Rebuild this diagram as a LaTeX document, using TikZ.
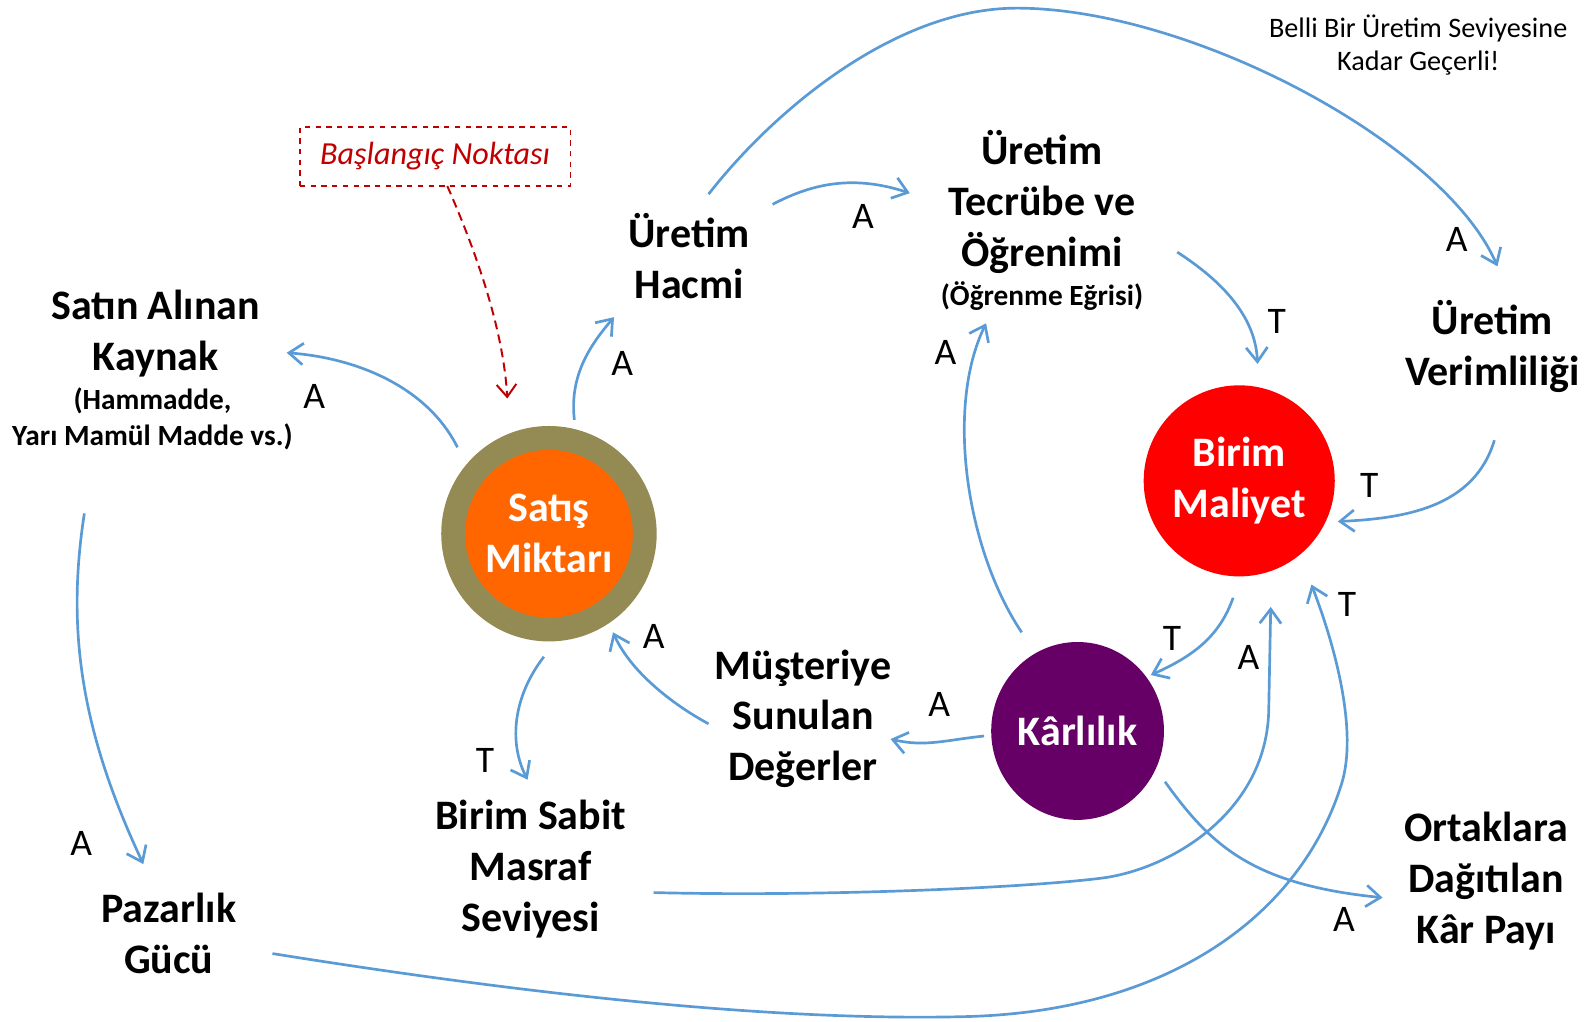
\documentclass[tikz,border=0pt]{standalone}
\usepackage{fontspec}
\setmainfont{Carlito}
\usepackage{tikz}
\usetikzlibrary{arrows.meta,shapes.geometric}

\definecolor{linkblue}{RGB}{91,155,213}
\definecolor{darkred}{RGB}{192,0,0}
\definecolor{satisdis}{RGB}{148,138,84}
\definecolor{satisorange}{RGB}{255,102,0}
\definecolor{maliyetred}{RGB}{255,0,0}
\definecolor{karmor}{RGB}{102,0,102}

\newcommand\bigfont{\fontsize{23.5}{28.5}\selectfont\bfseries}
\newcommand\smallfont{\fontsize{16.4}{20}\selectfont\bfseries}
\newcommand\signfont{\fontsize{21}{22}\selectfont}
\newcommand\notefont{\fontsize{15.8}{18.5}\selectfont}
\newcommand\startfont{\fontsize{18}{20}\selectfont\itshape}

\begin{document}
\begin{tikzpicture}[x=0.02cm, y=-0.02cm,
  lbl/.style={font=\bigfont, align=center, inner sep=2pt},
  sublbl/.style={font=\smallfont, align=center, inner sep=2pt},
  sign/.style={font=\signfont, inner sep=0pt},
  link/.style={draw=linkblue, line width=1.5pt, -{Straight Barb[length=8pt,width=12pt]}},
  startarrow/.style={draw=darkred, line width=1.1pt, dash pattern=on 5pt off 3pt, -{Straight Barb[length=7pt,width=11pt]}},
  disk/.style={circle, inner sep=0pt, text=white, font=\bigfont, align=center}]
\useasboundingbox (0,0) rectangle (1568,1005);

% kavramlar
\node[lbl] (kaynak) at (153,328) {Satın Alınan\\Kaynak};
\node[sublbl] (kaynakalt) at (150,412) {(Hammadde,\\Yarı Mamül Madde vs.)};
\node[lbl] (pazarlik) at (166,918) {Pazarlık\\Gücü};
\node[lbl] (hacim) at (678,252) {Üretim\\Hacmi};
\node[lbl] (tecrube) at (1025,199) {Üretim\\Tecrübe ve\\Öğrenimi};
\node[sublbl] (ogrenme) at (1025,291) {(Öğrenme Eğrisi)};
\node[lbl] (verim) at (1468,341) {Üretim\\Verimliliği};
\node[lbl] (musteri) at (790,707) {Müşteriye\\Sunulan\\Değerler};
\node[lbl] (sabit) at (522,855) {Birim Sabit\\Masraf\\Seviyesi};
\node[lbl] (ortak) at (1462,867) {Ortaklara\\Dağıtılan\\Kâr Payı};

\node[disk, fill=satisdis, minimum size=4.24cm] (satis) at (540,525) {};
\node[disk, fill=satisorange, minimum size=3.3cm] (satisic) at (satis) {Satış\\Miktarı};
\node[disk, fill=maliyetred, minimum size=3.76cm] (maliyet) at (1219,473) {Birim\\Maliyet};
\node[disk, ellipse, fill=karmor, minimum width=3.4cm, minimum height=3.5cm] (karlilik) at (1060,719) {Kârlılık};

\node[draw=darkred, dashed, line width=0.7pt, minimum width=5.32cm, minimum height=1.16cm,
  font=\startfont, text=darkred] (baslangic) at (428,154) {Başlangıç Noktası};
\node[font=\notefont, align=center] (uyari) at (1395,44) {Belli Bir Üretim Seviyesine\\Kadar Geçerli!};

% etkiler
\draw[link] ([shift={(-90,-85)}]satis.center) .. controls (420,380) and (350,352) .. ([shift={(129,19)}]kaynak.center);
\draw[link] ([shift={(25,-112)}]satis.center) .. controls (560,370) and (580,340) .. ([shift={(-74,60)}]hacim.center);
\draw[link] ([shift={(82,-51)}]hacim.center) .. controls (800,180) and (840,172) .. ([shift={(-130,-9)}]tecrube.center);
\draw[link] ([shift={(19,-61)}]hacim.center) .. controls (760,110) and (880,8) .. (1000,8)
  .. controls (1170,8) and (1420,140) .. ([shift={(5,-79)}]verim.center);
\draw[link] ([shift={(133,49)}]tecrube.center) .. controls (1200,275) and (1235,310) .. ([shift={(18,-115)}]maliyet.center);
\draw[link] ([shift={(2,92)}]verim.center) .. controls (1450,500) and (1380,510) .. ([shift={(97,40)}]maliyet.center);
\draw[link] ([shift={(-55,-97)}]karlilik.center) .. controls (950,540) and (930,400) .. ([shift={(-55,27)}]ogrenme.center);
\draw[link] ([shift={(-6,115)}]maliyet.center) .. controls (1200,625) and (1175,645) .. ([shift={(72,-55)}]karlilik.center);
\draw[link] ([shift={(-92,5)}]karlilik.center) .. controls (930,728) and (910,735) .. ([shift={(86,20)}]musteri.center);
\draw[link] ([shift={(-93,5)}]musteri.center) .. controls (660,692) and (620,660) .. ([shift={(63,97)}]satis.center);
\draw[link] ([shift={(-5,121)}]satis.center) .. controls (505,685) and (500,730) .. ([shift={(-3,-88)}]sabit.center);
\draw[link] ([shift={(121,23)}]sabit.center) .. controls (800,882) and (1000,874) .. (1082,864)
  .. controls (1150,856) and (1245,800) .. (1248,700) -- ([shift={(31,124)}]maliyet.center);
\draw[link] ([shift={(86,50)}]karlilik.center) .. controls (1190,830) and (1230,870) .. ([shift={(-102,16)}]ortak.center);
\draw[link] ([shift={(102,20)}]pazarlik.center) .. controls (500,975) and (750,1005) .. (950,1000)
  .. controls (1150,995) and (1280,900) .. (1320,770)
  .. controls (1335,720) and (1315,640) .. ([shift={(71,102)}]maliyet.center);
\draw[link] ([shift={(-67,93)}]kaynakalt.center) .. controls (65,620) and (80,720) .. ([shift={(-25,-68)}]pazarlik.center);
\draw[startarrow] ([shift={(12,29)}]baslangic.center) .. controls (465,240) and (495,320) .. ([shift={(-41,-133)}]satis.center);

% A / T isaretleri
\node[sign] (i1) at (309,390) {A};
\node[sign] (i2) at (612,358) {A};
\node[sign] (i3) at (849,213) {A};
\node[sign] (i4) at (1433,236) {A};
\node[sign] (i5) at (1256,316) {T};
\node[sign] (i6) at (1347,478) {T};
\node[sign] (i7) at (930,347) {A};
\node[sign] (i8) at (1153,628) {T};
\node[sign] (i9) at (924,693) {A};
\node[sign] (i10) at (643,626) {A};
\node[sign] (i11) at (477,748) {T};
\node[sign] (i12) at (1228,647) {A};
\node[sign] (i13) at (1322,904) {A};
\node[sign] (i14) at (1325,595) {T};
\node[sign] (i15) at (80,830) {A};
\end{tikzpicture}
\end{document}
